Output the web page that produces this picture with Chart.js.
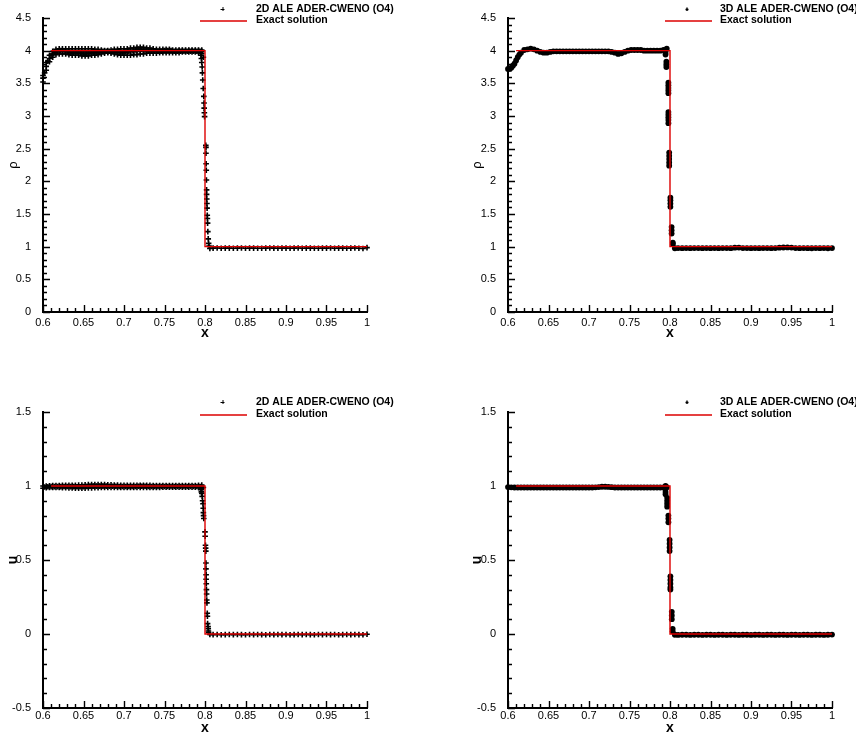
<!DOCTYPE html>
<html>
<head>
<meta charset="utf-8">
<title>Shock tube: density and velocity</title>
<script src="https://cdn.jsdelivr.net/npm/chart.js@4.4.1/dist/chart.umd.min.js"></script>
<style>
  html, body { margin: 0; padding: 0; background: #fff; }
  #page { position: relative; width: 856px; height: 736px; overflow: hidden; background: #fff; }
  #page canvas { position: absolute; }
</style>
</head>
<body>
<div id="page">
  <canvas id="rho2d" width="428" height="368" style="left:0;top:0"></canvas>
  <canvas id="rho3d" width="428" height="368" style="left:428px;top:0"></canvas>
  <canvas id="u2d" width="428" height="368" style="left:0;top:368px"></canvas>
  <canvas id="u3d" width="428" height="368" style="left:428px;top:368px"></canvas>
</div>
<script>
// ---------- axis ticks ----------
const xTicks   = [0.6, 0.65, 0.7, 0.75, 0.8, 0.85, 0.9, 0.95, 1];
const rhoTicks = [0, 0.5, 1, 1.5, 2, 2.5, 3, 3.5, 4, 4.5];
const uTicks   = [-0.5, 0, 0.5, 1, 1.5];

// ---------- series labels ----------
const label2d = '2D ALE ADER-CWENO (O4)';
const label3d = '3D ALE ADER-CWENO (O4)';
const labelExact = 'Exact solution';

// ---------- exact solution ----------
const exactX   = [0.61, 0.8, 0.8, 1.0];
const rhoExact = [4, 4, 1, 1];
const uExact   = [1, 1, 0, 0];

// ---------- cell centres, post-shock plateau ----------
const xPlateau = [
  0.600, 0.604, 0.608, 0.612, 0.616, 0.620, 0.624, 0.628, 0.632, 0.636,
  0.640, 0.644, 0.648, 0.652, 0.656, 0.660, 0.664, 0.668, 0.672, 0.676,
  0.680, 0.684, 0.688, 0.692, 0.696, 0.700, 0.704, 0.708, 0.712, 0.716,
  0.720, 0.724, 0.728, 0.732, 0.736, 0.740, 0.744, 0.748, 0.752, 0.756,
  0.760, 0.764, 0.768, 0.772, 0.776, 0.780, 0.784, 0.788, 0.792, 0.796
];
// staggered cell centres of the 2D mesh
const xPlateauB = [
  0.602, 0.606, 0.610, 0.614, 0.618, 0.622, 0.626, 0.630, 0.634, 0.638,
  0.642, 0.646, 0.650, 0.654, 0.658, 0.662, 0.666, 0.670, 0.674, 0.678,
  0.682, 0.686, 0.690, 0.694, 0.698, 0.702, 0.706, 0.710, 0.714, 0.718,
  0.722, 0.726, 0.730, 0.734, 0.738, 0.742, 0.746, 0.750, 0.754, 0.758,
  0.762, 0.766, 0.770, 0.774, 0.778, 0.782, 0.786, 0.790, 0.794, 0.798
];
// ---------- cell centres, pre-shock state ----------
const xRight = [
  0.806, 0.810, 0.815, 0.820, 0.825, 0.830, 0.835, 0.840, 0.845, 0.850,
  0.855, 0.860, 0.865, 0.870, 0.875, 0.880, 0.885, 0.890, 0.895, 0.900,
  0.905, 0.910, 0.915, 0.920, 0.925, 0.930, 0.935, 0.940, 0.945, 0.950,
  0.955, 0.960, 0.965, 0.970, 0.975, 0.980, 0.985, 0.990, 0.995, 1.000
];

// ---------- 2D density ----------
const rho2dUpper = [
  3.62, 3.82, 3.93, 3.99, 4.02, 4.03, 4.03, 4.03, 4.03, 4.03,
  4.03, 4.03, 4.03, 4.03, 4.03, 4.03, 4.02, 4.02, 4.01, 4.00,
  4.00, 4.01, 4.02, 4.02, 4.03, 4.03, 4.03, 4.04, 4.04, 4.05,
  4.05, 4.05, 4.04, 4.04, 4.03, 4.02, 4.02, 4.02, 4.02, 4.02,
  4.01, 4.01, 4.01, 4.01, 4.01, 4.01, 4.01, 4.01, 4.01, 4.01
];
const rho2dMid = [
  3.58, 3.76, 3.88, 3.95, 3.98, 3.99, 4.00, 3.99, 3.99, 3.98,
  3.98, 3.98, 3.98, 3.98, 3.98, 3.98, 3.98, 3.98, 3.98, 3.98,
  3.98, 3.98, 3.98, 3.98, 3.98, 3.98, 3.98, 3.99, 3.99, 4.00,
  4.00, 4.00, 4.00, 4.00, 3.99, 3.99, 3.99, 3.99, 3.99, 3.99,
  3.99, 3.99, 4.00, 4.00, 4.00, 4.00, 4.00, 4.00, 4.00, 3.99
];
const rho2dLower = [
  3.52, 3.70, 3.83, 3.90, 3.94, 3.95, 3.95, 3.95, 3.94, 3.93,
  3.93, 3.93, 3.92, 3.92, 3.92, 3.93, 3.93, 3.94, 3.95, 3.96,
  3.97, 3.96, 3.95, 3.94, 3.93, 3.93, 3.93, 3.93, 3.94, 3.94,
  3.95, 3.95, 3.96, 3.96, 3.96, 3.96, 3.97, 3.97, 3.97, 3.97,
  3.97, 3.97, 3.97, 3.98, 3.98, 3.98, 3.98, 3.98, 3.97, 3.96
];
const rho2dStag = [
  3.66, 3.84, 3.93, 3.97, 3.99, 4.00, 3.99, 3.98, 3.97, 3.96,
  3.96, 3.96, 3.95, 3.95, 3.96, 3.97, 3.97, 3.98, 3.99, 3.99,
  3.99, 3.99, 3.98, 3.97, 3.97, 3.98, 3.99, 4.00, 4.01, 4.02,
  4.02, 4.01, 4.00, 4.00, 3.99, 3.99, 3.99, 4.00, 4.00, 4.00,
  3.99, 3.99, 3.99, 3.99, 3.99, 3.99, 3.99, 3.99, 3.99, 3.90
];
const rho2dShockX = [
  0.7945, 0.7950, 0.7955, 0.7960, 0.7965, 0.7968, 0.7972, 0.7978, 0.7985, 0.7988,
  0.7990, 0.7992, 0.7995, 0.8010, 0.8012, 0.8012, 0.8014, 0.8016, 0.8018, 0.8020,
  0.8020, 0.8022, 0.8024, 0.8026, 0.8028, 0.8030, 0.8032, 0.8035, 0.8040, 0.8045,
  0.8050
];
const rho2dShockY = [
  3.97, 3.93, 3.88, 3.82, 3.75, 3.66, 3.55, 3.42, 3.30, 3.20,
  3.12, 3.05, 2.99, 2.55, 2.52, 2.43, 2.27, 2.17, 2.02, 1.87,
  1.80, 1.73, 1.66, 1.59, 1.48, 1.43, 1.36, 1.23, 1.12, 1.05,
  1.01
];
const rho2dRight = [
  0.974, 0.977, 0.979, 0.976, 0.978, 0.977, 0.975, 0.978, 0.979, 0.976,
  0.977, 0.978, 0.976, 0.975, 0.978, 0.979, 0.977, 0.976, 0.978, 0.977,
  0.975, 0.978, 0.979, 0.976, 0.977, 0.978, 0.976, 0.975, 0.978, 0.977,
  0.979, 0.976, 0.977, 0.978, 0.975, 0.977, 0.979, 0.976, 0.972, 0.985
];

// ---------- 3D density ----------
const rho3dPlateau = [
  3.72, 3.74, 3.80, 3.90, 3.97, 4.01, 4.02, 4.03, 4.02, 4.00,
  3.98, 3.97, 3.97, 3.98, 3.99, 3.99, 3.99, 3.99, 3.99, 3.99,
  3.99, 3.99, 3.99, 3.99, 3.99, 3.99, 3.99, 3.99, 3.99, 3.99,
  3.99, 3.99, 3.98, 3.97, 3.95, 3.96, 3.98, 4.00, 4.01, 4.01,
  4.01, 4.01, 4.00, 4.00, 4.00, 4.00, 4.00, 4.00, 4.01, 4.03
];
const rho3dShockX = [
  0.602, 0.606, 0.610, 0.614,
  0.7945, 0.7945, 0.7945, 0.7955, 0.7955, 0.7955,
  0.798, 0.798, 0.798, 0.798, 0.798, 0.798, 0.798, 0.798, 0.798, 0.798,
  0.799, 0.799, 0.799, 0.799, 0.799,
  0.8005, 0.8005, 0.8005, 0.8005,
  0.802, 0.802, 0.802, 0.8035, 0.8035
];
const rho3dShockY = [
  3.72, 3.77, 3.85, 3.94,
  4.00, 3.97, 3.94, 3.83, 3.79, 3.75,
  3.51, 3.47, 3.43, 3.39, 3.35, 3.06, 3.02, 2.98, 2.94, 2.89,
  2.44, 2.39, 2.34, 2.29, 2.24,
  1.75, 1.71, 1.66, 1.61,
  1.30, 1.25, 1.20, 1.06, 1.04
];
const rho3dRight = [
  0.976, 0.978, 0.977, 0.978, 0.977, 0.978, 0.978, 0.977, 0.978, 0.977,
  0.978, 0.977, 0.978, 0.978, 0.977, 0.985, 0.986, 0.979, 0.978, 0.977,
  0.978, 0.977, 0.978, 0.978, 0.977, 0.978, 0.984, 0.987, 0.988, 0.986,
  0.979, 0.977, 0.978, 0.977, 0.976, 0.978, 0.977, 0.978, 0.976, 0.979
];

// ---------- 2D velocity ----------
const u2dUpper = [
  1.000, 1.000, 1.002, 1.003, 1.003, 1.003, 1.004, 1.005, 1.005, 1.005,
  1.005, 1.006, 1.007, 1.008, 1.009, 1.010, 1.010, 1.010, 1.010, 1.009,
  1.008, 1.008, 1.007, 1.006, 1.005, 1.005, 1.004, 1.004, 1.004, 1.005,
  1.005, 1.005, 1.004, 1.004, 1.003, 1.003, 1.003, 1.003, 1.003, 1.003,
  1.003, 1.003, 1.003, 1.003, 1.003, 1.003, 1.003, 1.003, 1.004, 1.006
];
const u2dLower = [
  0.985, 0.988, 0.990, 0.990, 0.990, 0.990, 0.989, 0.988, 0.987, 0.986,
  0.985, 0.985, 0.985, 0.985, 0.986, 0.987, 0.988, 0.989, 0.990, 0.990,
  0.990, 0.990, 0.990, 0.990, 0.990, 0.990, 0.990, 0.990, 0.990, 0.990,
  0.991, 0.991, 0.991, 0.991, 0.991, 0.991, 0.991, 0.992, 0.992, 0.992,
  0.992, 0.992, 0.992, 0.992, 0.992, 0.992, 0.992, 0.992, 0.990, 0.985
];
const u2dStag = [
  0.993, 0.995, 0.996, 0.996, 0.996, 0.996, 0.997, 0.997, 0.996, 0.996,
  0.995, 0.995, 0.996, 0.997, 0.998, 0.999, 0.999, 0.999, 0.999, 0.999,
  0.998, 0.998, 0.998, 0.997, 0.997, 0.997, 0.997, 0.997, 0.997, 0.998,
  0.998, 0.998, 0.997, 0.997, 0.997, 0.997, 0.997, 0.997, 0.997, 0.997,
  0.997, 0.997, 0.997, 0.997, 0.997, 0.997, 0.997, 0.997, 0.997, 0.990
];
const u2dShockX = [
  0.7945, 0.7950, 0.7955, 0.7960, 0.7965, 0.7970, 0.7975, 0.7978, 0.7980, 0.7982,
  0.7985, 0.8000, 0.8002, 0.8006, 0.8008, 0.8010, 0.8012, 0.8012, 0.8014, 0.8014,
  0.8016, 0.8018, 0.8020, 0.8022, 0.8024, 0.8028, 0.8030, 0.8032, 0.8038, 0.8040,
  0.8042, 0.8045
];
const u2dShockY = [
  0.99, 0.975, 0.96, 0.95, 0.93, 0.90, 0.88, 0.85, 0.82, 0.80,
  0.78, 0.69, 0.66, 0.60, 0.58, 0.56, 0.48, 0.44, 0.40, 0.37,
  0.34, 0.30, 0.27, 0.23, 0.21, 0.14, 0.12, 0.07, 0.05, 0.035,
  0.02, 0.01
];
const u2dRight = [
  -0.003, -0.004, -0.003, -0.005, -0.004, -0.003, -0.004, -0.003, -0.004, -0.005,
  -0.003, -0.004, -0.003, -0.004, -0.005, -0.003, -0.004, -0.003, -0.004, -0.003,
  -0.005, -0.004, -0.003, -0.004, -0.003, -0.004, -0.005, -0.003, -0.004, -0.003,
  -0.004, -0.003, -0.005, -0.004, -0.003, -0.004, -0.003, -0.004, -0.005, -0.002
];

// ---------- 3D velocity ----------
const u3dPlateau = [
  0.993, 0.991, 0.990, 0.990, 0.990, 0.990, 0.990, 0.990, 0.990, 0.990,
  0.990, 0.990, 0.990, 0.990, 0.990, 0.990, 0.990, 0.990, 0.990, 0.990,
  0.990, 0.990, 0.990, 0.990, 0.990, 0.990, 0.990, 0.991, 0.993, 0.995,
  0.995, 0.994, 0.992, 0.990, 0.990, 0.990, 0.990, 0.990, 0.990, 0.990,
  0.990, 0.990, 0.990, 0.990, 0.990, 0.990, 0.990, 0.990, 0.990, 0.992
];
const u3dShockX = [
  0.7945, 0.7945, 0.7945, 0.7945, 0.7965, 0.7965, 0.7965, 0.7965,
  0.798, 0.798, 0.798, 0.7995, 0.7995, 0.7995, 0.7995,
  0.8005, 0.8005, 0.8005, 0.8005, 0.8005,
  0.8022, 0.8022, 0.8022, 0.8033, 0.8033
];
const u3dShockY = [
  1.00, 0.98, 0.96, 0.945, 0.92, 0.90, 0.88, 0.86,
  0.80, 0.78, 0.755, 0.635, 0.61, 0.585, 0.56,
  0.39, 0.365, 0.34, 0.315, 0.30,
  0.15, 0.125, 0.10, 0.035, 0.018
];
const u3dRight = [
  -0.005, -0.006, -0.005, -0.005, -0.006, -0.005, -0.005, -0.006, -0.005, -0.005,
  -0.006, -0.005, -0.005, -0.006, -0.005, -0.005, -0.006, -0.005, -0.005, -0.006,
  -0.005, -0.005, -0.006, -0.005, -0.005, -0.006, -0.005, -0.005, -0.006, -0.005,
  -0.005, -0.006, -0.005, -0.005, -0.006, -0.005, -0.005, -0.006, -0.005, -0.004
];

// ---------- drawing ----------
const FONT = '"Liberation Sans", Arial, Helvetica, sans-serif';
const RED = '#dd0000';
Chart.defaults.font.family = FONT;
Chart.defaults.color = '#000';

const pts = (xs, ys) => xs.map((x, i) => ({ x: x, y: ys[i] }));

// Inward major/minor tick marks, key box and axis titles.
const decor = {
  id: 'decor',
  afterDraw(chart, args, o) {
    const ctx = chart.ctx, a = chart.chartArea;
    const xs = chart.scales.x, ys = chart.scales.y;
    ctx.save();
    ctx.strokeStyle = '#000';
    ctx.lineWidth = 1.4;
    ctx.beginPath();
    const nx = Math.round((xs.max - xs.min) / 0.01);
    for (let i = 0; i <= nx; i++) {
      const px = Math.round(xs.getPixelForValue(xs.min + i * 0.01)) + 0.5;
      const len = i % 5 === 0 ? 7 : 4;
      ctx.moveTo(px, a.bottom);
      ctx.lineTo(px, a.bottom - len);
    }
    const ny = Math.round((ys.max - ys.min) / 0.1);
    for (let i = 0; i <= ny; i++) {
      const py = Math.round(ys.getPixelForValue(ys.min + i * 0.1)) + 0.5;
      const len = i % 5 === 0 ? 7 : 4;
      ctx.moveTo(a.left, py);
      ctx.lineTo(a.left + len, py);
    }
    ctx.stroke();

    // key
    const k = o.key;
    const ds = chart.data.datasets;
    ctx.fillStyle = '#000';
    ctx.font = 'bold 10.5px ' + FONT;
    ctx.textAlign = 'left';
    ctx.textBaseline = 'middle';
    ctx.fillText(ds[0].label, k.textX, k.y1);
    ctx.fillText(ds[1].label, k.textX, k.y2);
    ctx.beginPath();
    if (k.marker === 'cross') {
      ctx.lineWidth = 1;
      ctx.moveTo(k.markX - 2, k.y1 + 0.5); ctx.lineTo(k.markX + 2, k.y1 + 0.5);
      ctx.moveTo(k.markX + 0.5, k.y1 - 2); ctx.lineTo(k.markX + 0.5, k.y1 + 2);
    } else {
      ctx.lineWidth = 1.4;
      ctx.moveTo(k.markX - 1.5, k.y1 + 0.5); ctx.lineTo(k.markX + 1.5, k.y1 + 0.5);
      ctx.moveTo(k.markX, k.y1 - 1.5); ctx.lineTo(k.markX, k.y1 + 2);
    }
    ctx.strokeStyle = '#000';
    ctx.stroke();
    ctx.beginPath();
    ctx.strokeStyle = RED;
    ctx.lineWidth = 1.3;
    ctx.moveTo(k.lineX0, k.y2 + 0.5);
    ctx.lineTo(k.lineX1, k.y2 + 0.5);
    ctx.stroke();

    // axis titles
    ctx.fillStyle = '#000';
    ctx.textAlign = 'center';
    ctx.font = 'bold 14px ' + FONT;
    ctx.fillText('x', (a.left + a.right) / 2, o.xTitleY);
    ctx.translate(o.yTitleX, (a.top + a.bottom) / 2 + o.yTitleShift);
    ctx.rotate(-Math.PI / 2);
    ctx.font = o.yTitleFont;
    ctx.fillText(o.yTitle, 0, 0);
    ctx.restore();
  }
};

function makeChart(id, c) {
  const cross = c.style === 'cross';
  return new Chart(document.getElementById(id), {
    type: 'scatter',
    data: {
      datasets: [
        {
          label: c.label,
          data: c.points,
          order: 1,
          clip: 4,
          pointStyle: c.style,
          pointRadius: cross ? 2.8 : 2.9,
          pointBorderWidth: cross ? 1.6 : 0,
          pointBorderColor: '#000',
          pointBackgroundColor: '#000'
        },
        {
          label: labelExact,
          data: c.exact,
          order: 0,
          clip: 4,
          showLine: true,
          borderColor: RED,
          borderWidth: 1.4,
          pointRadius: 0,
          tension: 0,
          fill: false
        }
      ]
    },
    options: {
      responsive: false,
      animation: false,
      devicePixelRatio: 1,
      events: [],
      layout: { padding: { left: c.pad[0], right: c.pad[1], top: c.pad[2], bottom: 0 } },
      plugins: {
        legend: { display: false },
        tooltip: { enabled: false },
        decor: c.decor
      },
      scales: {
        x: {
          type: 'linear',
          min: 0.6,
          max: 1,
          afterBuildTicks: s => { s.ticks = xTicks.map(v => ({ value: v })); },
          afterFit: s => { s.height = c.xHeight; },
          grid: { display: false },
          border: { display: true, color: '#000', width: 2 },
          ticks: {
            font: { size: 11 }, color: '#000', padding: c.xPad,
            maxRotation: 0, autoSkip: false,
            callback: v => String(v)
          }
        },
        y: {
          type: 'linear',
          min: c.yTicks[0],
          max: c.yTicks[c.yTicks.length - 1],
          afterBuildTicks: s => { s.ticks = c.yTicks.map(v => ({ value: v })); },
          afterFit: s => { s.width = 43; },
          grid: { display: false },
          border: { display: true, color: '#000', width: 2 },
          ticks: {
            font: { size: 11 }, color: '#000', padding: 4,
            autoSkip: false,
            callback: v => String(v)
          }
        }
      }
    },
    plugins: [decor]
  });
}

const keyLeftTop   = { marker: 'cross', markX: 222.5, lineX0: 200, lineX1: 247, textX: 256, y1: 9,  y2: 20.5 };
const keyRightTop  = { marker: 'dot',   markX: 259,   lineX0: 237, lineX1: 284, textX: 292, y1: 9,  y2: 20.5 };
const keyLeftBot   = { marker: 'cross', markX: 222.5, lineX0: 200, lineX1: 247, textX: 256, y1: 34, y2: 46.5 };
const keyRightBot  = { marker: 'dot',   markX: 259,   lineX0: 237, lineX1: 284, textX: 292, y1: 34, y2: 46.5 };

makeChart('rho2d', {
  label: label2d, style: 'cross', yTicks: rhoTicks,
  points: [].concat(pts(xPlateau, rho2dUpper), pts(xPlateau, rho2dMid), pts(xPlateau, rho2dLower),
                    pts(xPlateauB, rho2dStag), pts(rho2dShockX, rho2dShockY), pts(xRight, rho2dRight)),
  exact: pts(exactX, rhoExact),
  pad: [0, 61, 18], xHeight: 56, xPad: -4,
  decor: { key: keyLeftTop, xTitleY: 333, yTitleX: 13.5, yTitleShift: 0, yTitle: 'ρ', yTitleFont: '13px ' + FONT }
});
makeChart('rho3d', {
  label: label3d, style: 'circle', yTicks: rhoTicks,
  points: [].concat(pts(xPlateau, rho3dPlateau), pts(rho3dShockX, rho3dShockY), pts(xRight, rho3dRight)),
  exact: pts(exactX, rhoExact),
  pad: [37, 24, 18], xHeight: 56, xPad: -4,
  decor: { key: keyRightTop, xTitleY: 333, yTitleX: 49, yTitleShift: 0, yTitle: 'ρ', yTitleFont: '13px ' + FONT }
});
makeChart('u2d', {
  label: label2d, style: 'cross', yTicks: uTicks,
  points: [].concat(pts(xPlateau, u2dUpper), pts(xPlateau, u2dLower), pts(xPlateauB, u2dStag),
                    pts(u2dShockX, u2dShockY), pts(xRight, u2dRight)),
  exact: pts(exactX, uExact),
  pad: [0, 61, 44], xHeight: 28, xPad: -7,
  decor: { key: keyLeftBot, xTitleY: 360, yTitleX: 13.5, yTitleShift: 0, yTitle: 'u', yTitleFont: 'bold 14px ' + FONT }
});
makeChart('u3d', {
  label: label3d, style: 'circle', yTicks: uTicks,
  points: [].concat(pts(xPlateau, u3dPlateau), pts(u3dShockX, u3dShockY), pts(xRight, u3dRight)),
  exact: pts(exactX, uExact),
  pad: [37, 24, 44], xHeight: 28, xPad: -7,
  decor: { key: keyRightBot, xTitleY: 360, yTitleX: 49, yTitleShift: 0, yTitle: 'u', yTitleFont: 'bold 14px ' + FONT }
});
</script>
</body>
</html>
